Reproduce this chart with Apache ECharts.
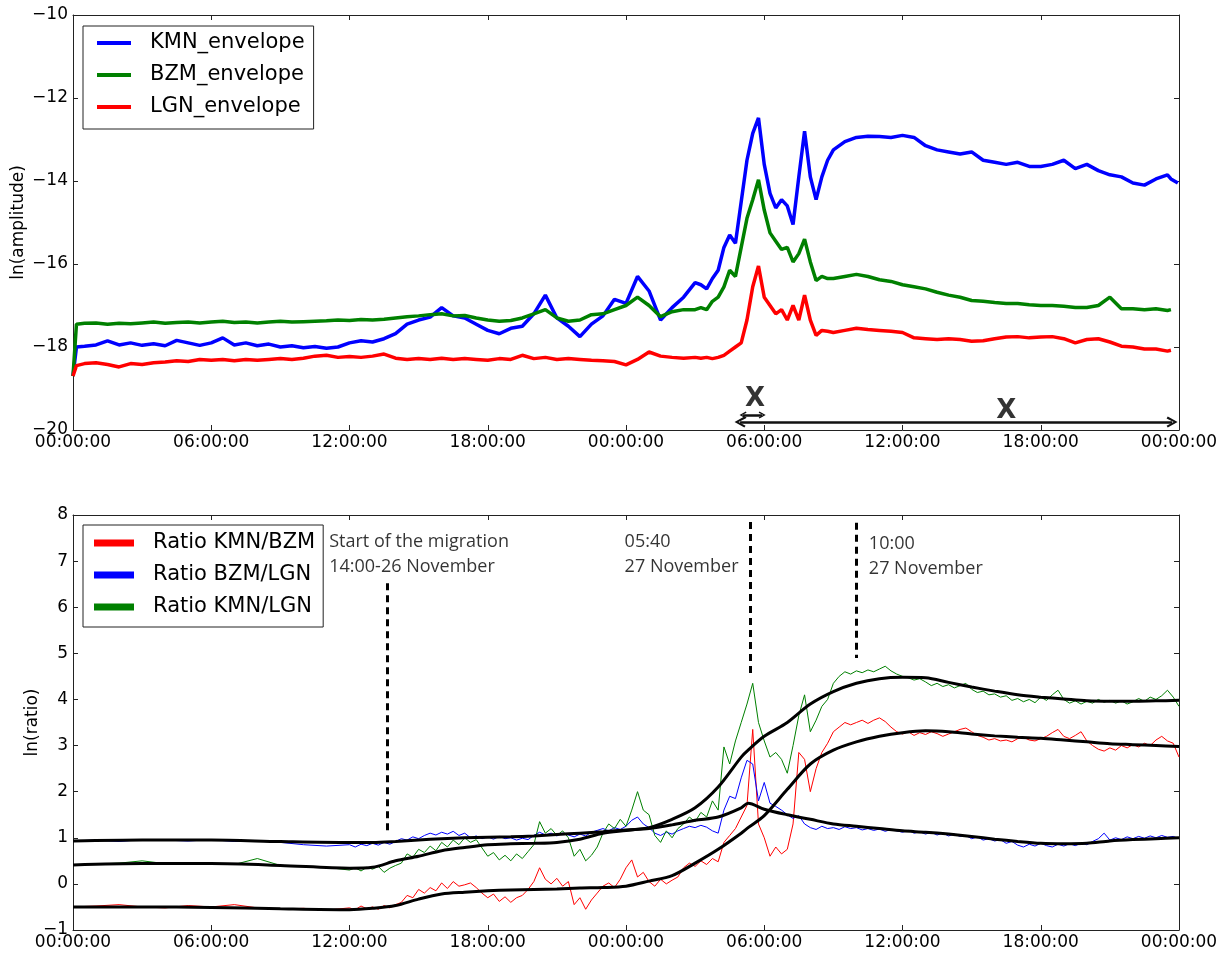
<!DOCTYPE html>
<html>
<head>
<meta charset="utf-8">
<title>Envelopes and ratios</title>
<script src="https://cdn.jsdelivr.net/npm/echarts@6/dist/echarts.min.js"></script>
<style>
  html, body { margin: 0; padding: 0; background: #fff; }
  #chart { width: 1228px; height: 954px; }
</style>
</head>
<body>
<div id="chart"></div>
<script>
// hours since 00:00 of the first day (two days shown)
const topHours = [
  0, 0.15, 0.5, 1, 1.5, 2, 2.5, 3, 3.5, 4, 4.5, 5, 5.5, 6, 6.5, 7, 7.5, 8, 8.5, 9, 9.5,
  10, 10.5, 11, 11.5, 12, 12.5, 13, 13.5, 14, 14.5, 15, 15.5, 16, 16.5, 17, 17.5, 18, 18.5, 19, 19.5,
  20, 20.5, 21, 21.5, 22, 22.5, 23, 23.5, 24, 24.5, 25, 25.5, 26, 26.5, 27,
  27.25, 27.5, 27.75, 28, 28.25, 28.5, 28.75, 29, 29.25, 29.5, 29.75, 30, 30.25, 30.5, 30.75,
  31, 31.25, 31.5, 31.75, 32, 32.25, 32.5, 32.75, 33,
  33.5, 34, 34.5, 35, 35.5, 36, 36.5, 37, 37.5, 38, 38.5, 39, 39.5, 40, 40.5,
  41, 41.5, 42, 42.5, 43, 43.5, 44, 44.5, 45, 45.5, 46, 46.5, 47, 47.5, 47.65, 47.95
];

const kmnEnvelope = [
  -18.7, -18.0, -17.98, -17.95, -17.85, -17.95, -17.9, -17.96, -17.92, -17.97, -17.84, -17.9, -17.96, -17.9, -17.78, -17.95, -17.9, -17.97, -17.93, -18.0, -17.97,
  -18.02, -17.99, -18.03, -18.0, -17.9, -17.85, -17.88, -17.8, -17.68, -17.45, -17.35, -17.28, -17.05, -17.25, -17.3, -17.45, -17.6, -17.68, -17.55, -17.5,
  -17.2, -16.75, -17.3, -17.5, -17.75, -17.45, -17.25, -16.85, -16.95, -16.3, -16.65, -17.35, -17.05, -16.8, -16.45,
  -16.5, -16.6, -16.35, -16.15, -15.6, -15.3, -15.5, -14.5, -13.5, -12.85, -12.48, -13.6, -14.3, -14.65, -14.45,
  -14.6, -15.05, -13.9, -12.8, -13.9, -14.45, -13.9, -13.5, -13.25,
  -13.05, -12.95, -12.92, -12.93, -12.95, -12.9, -12.95, -13.15, -13.25, -13.3, -13.35, -13.3, -13.5, -13.55, -13.6,
  -13.55, -13.65, -13.65, -13.6, -13.5, -13.7, -13.6, -13.75, -13.85, -13.9, -14.05, -14.1, -13.95, -13.85, -13.95, -14.05
];

const bzmEnvelope = [
  -18.7, -17.45, -17.43, -17.42, -17.45, -17.43, -17.44, -17.42, -17.4, -17.43, -17.41, -17.4, -17.42, -17.4, -17.38, -17.41, -17.4, -17.42, -17.4, -17.38, -17.4,
  -17.39, -17.38, -17.37, -17.35, -17.36, -17.34, -17.35, -17.33, -17.3, -17.27, -17.25, -17.22, -17.2, -17.25, -17.24, -17.3, -17.35, -17.38, -17.36, -17.3,
  -17.2, -17.1, -17.3, -17.38, -17.35, -17.22, -17.2, -17.1, -17.0, -16.8, -17.0, -17.27, -17.15, -17.1, -17.1,
  -17.05, -17.1, -16.9, -16.8, -16.55, -16.15, -16.3, -15.6, -14.9, -14.45, -13.97, -14.7, -15.25, -15.45, -15.65,
  -15.6, -15.95, -15.75, -15.4, -15.95, -16.4, -16.3, -16.35, -16.35,
  -16.3, -16.25, -16.3, -16.38, -16.42, -16.5, -16.55, -16.6, -16.68, -16.75, -16.8, -16.88, -16.9, -16.93, -16.95,
  -16.95, -16.98, -17.0, -17.0, -17.02, -17.05, -17.05, -17.0, -16.8, -17.08, -17.08, -17.1, -17.08, -17.12, -17.1, null
];

const lgnEnvelope = [
  -18.7, -18.45, -18.4, -18.38, -18.42, -18.48, -18.4, -18.42, -18.38, -18.36, -18.33, -18.35, -18.3, -18.32, -18.3, -18.33, -18.3, -18.32, -18.3, -18.28, -18.3,
  -18.27, -18.22, -18.2, -18.25, -18.23, -18.25, -18.22, -18.17, -18.27, -18.3, -18.28, -18.3, -18.27, -18.3, -18.28, -18.3, -18.32, -18.28, -18.3, -18.2,
  -18.28, -18.25, -18.3, -18.28, -18.3, -18.32, -18.33, -18.35, -18.43, -18.3, -18.12, -18.22, -18.25, -18.27, -18.25,
  -18.27, -18.25, -18.28, -18.25, -18.2, -18.1, -18.0, -17.9, -17.35, -16.55, -16.05, -16.8, -17.0, -17.2, -17.1,
  -17.35, -17.0, -17.35, -16.75, -17.35, -17.72, -17.6, -17.62, -17.65,
  -17.6, -17.55, -17.58, -17.6, -17.62, -17.65, -17.78, -17.8, -17.82, -17.8, -17.82, -17.86, -17.85, -17.8, -17.76,
  -17.75, -17.78, -17.76, -17.75, -17.8, -17.9, -17.82, -17.8, -17.88, -17.98, -18.0, -18.05, -18.05, -18.1, -18.08, null
];

const ratioHours = [
  0, 1, 2, 3, 4, 5, 6, 7, 8, 9, 10, 11,
  12, 12.25, 12.5, 12.75, 13, 13.25, 13.5, 13.75,
  14, 14.25, 14.5, 14.75, 15, 15.25, 15.5, 15.75,
  16, 16.25, 16.5, 16.75, 17, 17.25, 17.5, 17.75,
  18, 18.25, 18.5, 18.75, 19, 19.25, 19.5, 19.75,
  20, 20.25, 20.5, 20.75, 21, 21.25, 21.5, 21.75,
  22, 22.25, 22.5, 22.75, 23, 23.25, 23.5, 23.75,
  24, 24.25, 24.5, 24.75, 25, 25.25, 25.5, 25.75,
  26, 26.25, 26.5, 26.75, 27, 27.25, 27.5, 27.75,
  28, 28.25, 28.5, 28.75, 29, 29.25, 29.5, 29.75,
  30, 30.25, 30.5, 30.75, 31, 31.25, 31.5, 31.75,
  32, 32.25, 32.5, 32.75, 33, 33.25, 33.5, 33.75,
  34, 34.25, 34.5, 34.75, 35, 35.25, 35.5, 35.75,
  36, 36.25, 36.5, 36.75, 37, 37.25, 37.5, 37.75,
  38, 38.25, 38.5, 38.75, 39, 39.25, 39.5, 39.75,
  40, 40.25, 40.5, 40.75, 41, 41.25, 41.5, 41.75,
  42, 42.25, 42.5, 42.75, 43, 43.25, 43.5, 43.75,
  44, 44.25, 44.5, 44.75, 45, 45.25, 45.5, 45.75,
  46, 46.25, 46.5, 46.75, 47, 47.25, 47.5, 47.75,
  48
];

const ratioKMNBZM = [
  -0.5, -0.48, -0.45, -0.5, -0.52, -0.47, -0.5, -0.45, -0.52, -0.55, -0.53, -0.57,
  -0.52, -0.56, -0.48, -0.54, -0.5, -0.55, -0.47, -0.52,
  -0.45, -0.4, -0.25, -0.3, -0.12, -0.2, -0.08, -0.15,
  0.02, -0.1, 0.05, -0.05, -0.02, 0.02, -0.08, -0.2,
  -0.3, -0.22, -0.38, -0.28, -0.4, -0.3, -0.25, -0.12,
  0.05, 0.35, 0.1, 0.0, 0.12, -0.05, 0.05, -0.45,
  -0.3, -0.55, -0.35, -0.2, -0.05, 0.02, -0.08, 0.1,
  0.35, 0.52, 0.15, 0.25, 0.05, -0.05, 0.1, 0.0,
  0.08, 0.15, 0.35, 0.45, 0.38, 0.5, 0.42, 0.55,
  0.48, 0.9, 1.05, 1.2, 1.45, 1.7, 3.35, 1.3,
  1.0, 0.6, 0.8, 0.65, 0.75, 1.3, 2.85, 2.7,
  2.0, 2.5, 2.85, 3.05, 3.3, 3.4, 3.5, 3.45,
  3.5, 3.55, 3.48, 3.55, 3.6, 3.52, 3.4, 3.3,
  3.25, 3.3, 3.22, 3.28, 3.24, 3.3, 3.26, 3.2,
  3.25, 3.3, 3.35, 3.38, 3.3, 3.22, 3.18, 3.12,
  3.15, 3.1, 3.12, 3.08, 3.15, 3.18, 3.12, 3.1,
  3.15, 3.2, 3.28, 3.35, 3.2, 3.15, 3.22, 3.3,
  3.1, 3.0, 2.92, 2.88, 2.95, 2.9, 3.0, 2.95,
  3.02, 2.97, 3.05, 3.0, 3.12, 3.2, 3.1, 3.05,
  2.75
];

const ratioBZMLGN = [
  0.93, 0.95, 0.92, 0.96, 0.95, 0.93, 0.96, 0.92, 0.94, 0.9, 0.85, 0.82,
  0.85, 0.8, 0.86, 0.83, 0.88, 0.84, 0.9, 0.86,
  0.92, 0.98, 0.95, 1.02, 0.98, 1.05, 1.1, 1.06,
  1.12, 1.08, 1.14, 1.05, 1.1, 1.0, 1.04, 0.98,
  1.02, 0.97, 1.03, 0.98, 1.0, 0.95, 0.99, 0.96,
  1.05, 1.12, 1.06, 1.1, 1.04, 1.1, 1.06, 1.02,
  1.08, 1.04, 1.12, 1.16, 1.2, 1.15, 1.22, 1.18,
  1.25, 1.38, 1.45, 1.3, 1.22, 1.1, 1.05, 1.12,
  1.08, 1.15, 1.2, 1.25, 1.22, 1.27, 1.23, 1.15,
  1.1, 1.6, 1.9, 1.85, 2.3, 2.68, 2.6, 1.8,
  2.2, 1.75, 1.68, 1.6, 1.5, 1.42, 1.48, 1.3,
  1.22, 1.18, 1.25, 1.2, 1.22, 1.18, 1.24, 1.2,
  1.22, 1.17, 1.2, 1.16, 1.19, 1.14, 1.18, 1.15,
  1.12, 1.16, 1.1, 1.13, 1.08, 1.12, 1.06, 1.1,
  1.04, 1.08, 1.03, 1.05, 0.98, 1.02, 0.95, 0.98,
  0.93, 0.96, 0.88, 0.92, 0.84, 0.8, 0.86, 0.82,
  0.88, 0.83, 0.8, 0.86, 0.82, 0.87, 0.83, 0.88,
  0.85, 0.92, 0.98, 1.1, 0.95, 1.0, 0.96, 1.02,
  0.98, 1.03, 0.99, 1.04, 1.0, 1.05, 1.01, 1.03,
  0.98
];

const ratioKMNLGN = [
  0.41, 0.43, 0.45, 0.5, 0.44, 0.45, 0.43, 0.42, 0.55, 0.4, 0.38, 0.36,
  0.3, 0.35, 0.28, 0.36, 0.32, 0.38, 0.25, 0.34,
  0.4, 0.45, 0.65, 0.58, 0.75, 0.68, 0.82, 0.72,
  0.9, 0.8, 0.95, 0.85, 1.0, 0.9, 0.96, 0.78,
  0.6, 0.68, 0.52, 0.62, 0.5, 0.65, 0.55, 0.7,
  0.85, 1.35, 1.1, 1.2, 1.05, 1.15, 1.0, 0.6,
  0.75, 0.5, 0.62, 0.8, 1.1, 1.3, 1.2, 1.4,
  1.25, 1.6, 2.0, 1.6, 1.5, 1.05, 0.9, 1.15,
  1.0, 1.2, 1.3, 1.45, 1.35, 1.55, 1.45, 1.8,
  1.6, 2.97, 2.6, 3.1, 3.5, 3.9, 4.35, 3.5,
  3.1, 2.75, 2.85, 2.7, 2.4, 3.0, 3.65, 4.1,
  3.3, 3.55, 3.85, 4.0, 4.35, 4.5, 4.6, 4.55,
  4.62, 4.58, 4.64, 4.6, 4.66, 4.72, 4.62, 4.55,
  4.5, 4.47, 4.42, 4.45, 4.38, 4.3, 4.35, 4.28,
  4.32, 4.25, 4.3, 4.35, 4.22, 4.15, 4.18, 4.1,
  4.12, 4.05, 4.08, 3.98, 4.02, 3.95, 4.0, 3.93,
  4.05, 3.98, 4.1, 4.2, 4.0, 3.92, 3.97, 3.9,
  3.96, 3.92, 4.0, 3.94, 3.98, 3.92, 3.97, 3.9,
  3.95, 4.02, 3.96, 4.05, 4.0, 4.08, 4.2, 4.05,
  3.85
];

// smoothed ratios (black curves)
const trendHours = [0, 3, 6, 9, 12, 13, 14, 15, 16, 17, 18, 19, 20, 21, 22, 23, 24, 25, 26, 27, 28, 29, 29.3,
  30, 31, 32, 33, 34, 35, 36, 37, 38, 39, 40, 41, 42, 43, 44, 45, 46, 47, 48];
const trendKMNBZM = [-0.5, -0.5, -0.51, -0.54, -0.56, -0.53, -0.47, -0.33, -0.22, -0.18, -0.15, -0.13, -0.12, -0.11, -0.09, -0.08, -0.05, 0.06, 0.18, 0.45, 0.75, 1.1, 1.22,
  1.48, 2.05, 2.6, 2.9, 3.08, 3.2, 3.28, 3.32, 3.3, 3.25, 3.21, 3.18, 3.16, 3.12, 3.08, 3.04, 3.02, 3.0, 2.98];
const trendBZMLGN = [0.93, 0.95, 0.95, 0.92, 0.9, 0.9, 0.92, 0.95, 0.98, 1.0, 1.01, 1.02, 1.04, 1.07, 1.1, 1.13, 1.17, 1.2, 1.28, 1.38, 1.45, 1.65, 1.75,
  1.62, 1.5, 1.4, 1.3, 1.25, 1.2, 1.15, 1.12, 1.08, 1.03, 0.97, 0.92, 0.88, 0.87, 0.88, 0.93, 0.96, 0.98, 1.0];
const trendKMNLGN = [0.41, 0.44, 0.44, 0.4, 0.34, 0.36, 0.5, 0.6, 0.72, 0.79, 0.85, 0.87, 0.88, 0.9, 0.97, 1.1, 1.16, 1.22, 1.4, 1.65, 2.1, 2.75, 2.9,
  3.2, 3.5, 3.9, 4.17, 4.35, 4.45, 4.48, 4.47, 4.37, 4.27, 4.18, 4.1, 4.05, 4.01, 3.97, 3.96, 3.96, 3.97, 3.98];

const noteTexts = ['Start of the migration\n14:00-26 November', '05:40\n27 November', '10:00\n27 November'];

const pairs = (xs, ys) => xs.map((x, i) => [x, ys[i]]);
const hourLabel = v => String(v % 24).padStart(2, '0') + ':00:00';
const minus = v => String(v).replace('-', '\u2212');

const tickFont = { fontFamily: 'DejaVu Sans', fontSize: 17, color: '#000' };
const frame = { show: true, onZero: false, lineStyle: { color: '#222', width: 1 } };
const ticks = { show: true, inside: true, length: 5, lineStyle: { color: '#222' } };
const chevron = 'path://M5,0 L10,8.5 L8.4,9.5 L5,3.4 L1.6,9.5 L0,8.5 Z';

function xPair(grid) {
  return [
    { gridIndex: grid, type: 'value', min: 0, max: 48, interval: 6, axisLine: frame, axisTick: ticks,
      splitLine: { show: false },
      axisLabel: { ...tickFont, margin: 4, formatter: hourLabel, showMinLabel: true, showMaxLabel: true } },
    { gridIndex: grid, type: 'value', position: 'top', min: 0, max: 48, interval: 6, axisLine: frame,
      axisTick: ticks, splitLine: { show: false }, axisLabel: { show: false } }
  ];
}

function yPair(grid, min, max, step, name, gap) {
  return [
    { gridIndex: grid, type: 'value', min: min, max: max, interval: step, axisLine: frame, axisTick: ticks,
      splitLine: { show: false },
      name: name, nameLocation: 'middle', nameGap: gap, nameMoveOverlap: false,
      nameTextStyle: { fontFamily: 'DejaVu Sans', fontSize: 17, color: '#000' },
      axisLabel: { ...tickFont, margin: 5, formatter: minus, showMinLabel: true, showMaxLabel: true } },
    { gridIndex: grid, type: 'value', position: 'right', min: min, max: max, interval: step, axisLine: frame,
      axisTick: ticks, splitLine: { show: false }, axisLabel: { show: false } }
  ];
}

const legendBase = {
  orient: 'vertical', left: 83, icon: 'rect', itemGap: 8, selectedMode: false,
  borderColor: '#222', borderWidth: 1, borderRadius: 0, backgroundColor: '#fff',
  textStyle: { fontFamily: 'DejaVu Sans', fontSize: 21, lineHeight: 24, color: '#000', padding: [0, 0, 0, 14] }
};

const envelope = (name, color, values) => ({
  name: name, type: 'line', xAxisIndex: 0, yAxisIndex: 0, data: pairs(topHours, values),
  color: color, symbol: 'none', lineStyle: { width: 3.5, color: color }
});
const ratio = (name, color, values) => ({
  name: name, type: 'line', xAxisIndex: 2, yAxisIndex: 2, data: pairs(ratioHours, values),
  color: color, symbol: 'none', lineStyle: { width: 1, color: color }
});
const trend = (name, values) => ({
  name: name, type: 'line', xAxisIndex: 2, yAxisIndex: 2, data: pairs(trendHours, values),
  color: '#000', symbol: 'none', smooth: 0.3, lineStyle: { width: 3, color: '#000' }
});

const chart = echarts.init(document.getElementById('chart'));
const option = {
  animation: false,
  backgroundColor: '#fff',
  grid: [
    { left: 73, top: 15, width: 1106, height: 415 },
    { left: 73, top: 515, width: 1106, height: 415 }
  ],
  xAxis: [...xPair(0), ...xPair(1)],
  yAxis: [...yPair(0, -20, -10, 2, 'ln(amplitude)', 46), ...yPair(1, -1, 8, 1, 'ln(ratio)', 32)],
  legend: [
    { ...legendBase, top: 26, padding: [5, 9, 10, 14], itemWidth: 34, itemHeight: 4,
      data: ['KMN_envelope', 'BZM_envelope', 'LGN_envelope'] },
    { ...legendBase, top: 525, padding: [6, 8, 8, 11], itemWidth: 40, itemHeight: 7,
      data: ['Ratio KMN/BZM', 'Ratio BZM/LGN', 'Ratio KMN/LGN'] }
  ],
  series: [
    envelope('KMN_envelope', '#0000ff', kmnEnvelope),
    envelope('BZM_envelope', '#008000', bzmEnvelope),
    {
      ...envelope('LGN_envelope', '#ff0000', lgnEnvelope),
      // duration arrows under the peak
      markLine: {
        silent: true, symbol: [chevron, chevron], symbolSize: 11,
        label: { show: false },
        lineStyle: { color: '#111', width: 2.5, type: 'solid' },
        data: [
          [{ coord: [29.08, -19.64], symbolSize: 7 }, { coord: [29.91, -19.64], symbolSize: 7 }],
          [{ coord: [28.95, -19.81] }, { coord: [47.7, -19.81] }]
        ]
      }
    },
    {
      name: 'marks', type: 'scatter', xAxisIndex: 0, yAxisIndex: 0, symbolSize: 0, silent: true,
      data: [[29.6, -19.25], [40.5, -19.54]],
      label: { show: true, position: 'inside', formatter: 'X', fontFamily: 'DejaVu Sans',
        fontWeight: 'bold', fontSize: 26, color: '#000' }
    },
    ratio('Ratio KMN/BZM', '#ff0000', ratioKMNBZM),
    ratio('Ratio BZM/LGN', '#0000ff', ratioBZMLGN),
    ratio('Ratio KMN/LGN', '#008000', ratioKMNLGN),
    trend('trend KMN/BZM', trendKMNBZM),
    trend('trend BZM/LGN', trendBZMLGN),
    {
      ...trend('trend KMN/LGN', trendKMNLGN),
      markLine: {
        silent: true, symbol: ['none', 'none'], label: { show: false },
        lineStyle: { color: '#000', width: 3, type: [7, 5] },
        data: [
          [{ coord: [13.65, 6.52] }, { coord: [13.65, 1.12] }],
          [{ coord: [29.41, 7.85] }, { coord: [29.41, 4.53] }],
          [{ coord: [34.0, 7.83] }, { coord: [34.0, 4.9] }]
        ]
      }
    },
    {
      name: 'notes', type: 'scatter', xAxisIndex: 2, yAxisIndex: 2, symbolSize: 0, silent: true,
      data: [[11.12, 7.14], [23.94, 7.14], [34.54, 7.11]],
      label: { show: true, position: 'right', distance: 0, formatter: p => noteTexts[p.dataIndex],
        fontFamily: 'Open Sans', fontSize: 18, lineHeight: 25, color: '#000' }
    }
  ]
};
chart.setOption(option);
</script>
</body>
</html>
